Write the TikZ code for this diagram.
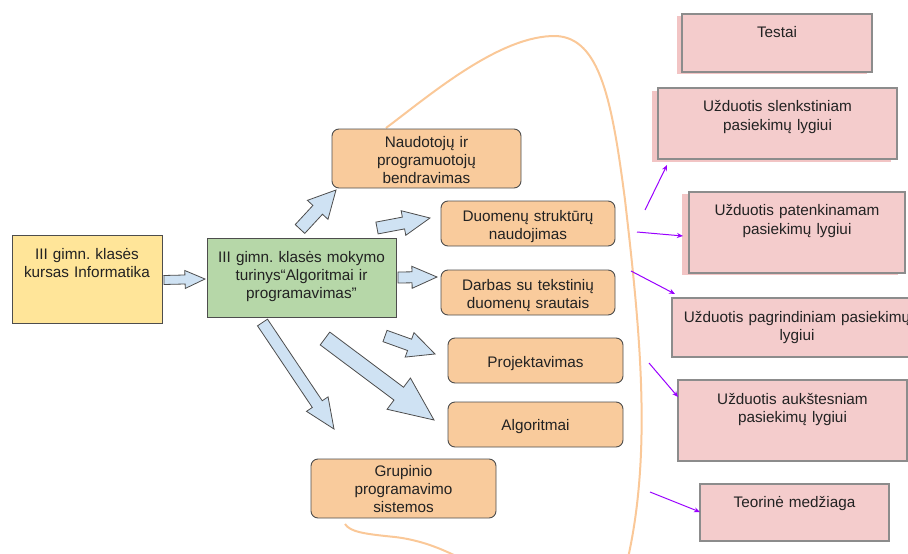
\documentclass[tikz,border=0pt]{standalone}
\usepackage{fontspec}
\setmainfont{Liberation Sans}
\usetikzlibrary{calc,arrows.meta}
\frenchspacing
\definecolor{cyel}{HTML}{FFE599}
\definecolor{cgreen}{HTML}{B6D7A8}
\definecolor{corange}{HTML}{F9CB9C}
\definecolor{cpink}{HTML}{F4CCCC}
\definecolor{cpinksh}{HTML}{F2C4C4}
\definecolor{cblue}{HTML}{CFE2F3}
\definecolor{cpurp}{HTML}{9900FF}
\definecolor{cbord}{HTML}{4D4D4D}
\definecolor{cbordp}{HTML}{8C8C8C}
\definecolor{ccurve}{HTML}{FAC898}
\definecolor{ctext}{HTML}{222222}
\tikzset{
  boxbase/.style={draw=cbord, line width=0.9pt, inner sep=0pt, outer sep=0pt},
  yelbox/.style={boxbase, fill=cyel},
  grnbox/.style={boxbase, fill=cgreen},
  orgbox/.style={boxbase, fill=corange, rounded corners=7pt},
  pnkbox/.style={boxbase, draw=cbordp, line width=1.2pt, fill=cpink},
  txt/.style={text=ctext, font=\fontsize{15.3pt}{18pt}\selectfont, align=center,
    text width=260pt, inner sep=0pt, anchor=base},
  ptxt/.style={txt, font=\fontsize{15.3pt}{19.5pt}\selectfont},
  blk/.style={draw=cbord, fill=cblue, line width=0.8pt, line join=miter},
  parr/.style={draw=cpurp, line width=1pt, -{Stealth[length=6pt,width=5pt]}},
  bracecurve/.style={draw=ccurve, line width=2pt},
}
\newcommand\mkbox[6]{\node[#2, minimum width={(#5-#3)*1pt}, minimum height={(#6-#4)*1pt}] (#1) at ({(#3+#5)/2},{(#4+#6)/2}) {};}
\newcommand\mkshadow[6]{\fill[cpinksh] ({#2+#5},{#3+#6}) rectangle ({#4+#5},{#1+#6});}
% #1 start, #2 tip, #3 half shaft, #4 half head, #5 head length
\newcommand\barrow[5]{%
  \coordinate (bah) at ($(#2)!#5!(#1)$);
  \draw[blk] ($(#1)!#3!90:(#2)$) -- ($(bah)!#3!90:(#2)$) -- ($(bah)!#4!90:(#2)$) -- (#2)
    -- ($(bah)!#4!-90:(#2)$) -- ($(bah)!#3!-90:(#2)$) -- ($(#1)!#3!-90:(#2)$) -- cycle;}
\begin{document}
\begin{tikzpicture}[x=1pt,y=-1pt]
\useasboundingbox (0,0) rectangle (908,554);
\begin{scope}
\clip (0,0) rectangle (908,554);
% orange brace curve
\draw[bracecurve] (386,128) .. controls (430,95) and (500,35) .. (556,36)
  .. controls (600,38) and (612,100) .. (625,200)
  .. controls (640,330) and (652,450) .. (628,558);
\draw[bracecurve] (345,524) .. controls (350,532) and (365,534) .. (395,537)
  .. controls (420,540) and (440,548) .. (460,558);

% left boxes
\mkbox{yel}{yelbox}{12}{235}{162}{323}
\node[txt] (tyel) at (87,259) {III gimn. klasės\\kursas Informatika};
\mkbox{grn}{grnbox}{207}{238}{396}{317}
\node[txt] (tgrn) at (301.5,262) {III gimn. klasės mokymo\\ turinys“Algoritmai ir\\programavimas”};

% orange boxes
\mkbox{nau}{orgbox}{332}{129}{521}{188}
\node[txt] (tnau) at (426.5,147) {Naudotojų ir\\programuotojų\\bendravimas};
\mkbox{duo}{orgbox}{441}{201}{615}{246}
\node[txt] (tduo) at (528,221) {Duomenų struktūrų\\naudojimas};
\mkbox{dar}{orgbox}{441}{270}{615}{315}
\node[txt] (tdar) at (528,290) {Darbas su tekstinių\\duomenų srautais};
\mkbox{pro}{orgbox}{448}{338}{623}{383}
\node[txt] (tpro) at (535.5,367) {Projektavimas};
\mkbox{alg}{orgbox}{448}{402}{623}{447}
\node[txt] (talg) at (535.5,430) {Algoritmai};
\mkbox{gru}{orgbox}{311}{459}{496}{518}
\node[txt] (tgru) at (403.5,476) {Grupinio\\programavimo\\sistemos};

% block arrows
\coordinate (a1s) at (164,280); \coordinate (a1t) at (205,279);
\barrow{a1s}{a1t}{4.5pt}{9pt}{20pt}
\coordinate (a2s) at (300,229); \coordinate (a2t) at (336,190);
\barrow{a2s}{a2t}{6.5pt}{14pt}{27pt}
\coordinate (a3s) at (377,228); \coordinate (a3t) at (430,218);
\barrow{a3s}{a3t}{6pt}{12.5pt}{27pt}
\coordinate (a4s) at (398,277.5); \coordinate (a4t) at (437,277);
\barrow{a4s}{a4t}{5.5pt}{11pt}{25pt}
\coordinate (a5s) at (385,336); \coordinate (a5t) at (435,354);
\barrow{a5s}{a5t}{6pt}{13pt}{27pt}
\coordinate (a6s) at (325,338.5); \coordinate (a6t) at (434,420);
\barrow{a6s}{a6t}{8pt}{19.5pt}{44pt}
\coordinate (a7s) at (262.5,322.5); \coordinate (a7t) at (334,429);
\barrow{a7s}{a7t}{6pt}{13pt}{30pt}

% pink boxes
\mkshadow{72}{682}{14}{872}{-5}{2}
\mkbox{tes}{pnkbox}{682}{14}{872}{72}
\node[ptxt] (ttes) at (777,37) {Testai};
\mkshadow{159}{658}{88}{897}{-6}{3}
\mkbox{sle}{pnkbox}{658}{88}{897}{159}
\node[ptxt] (tsle) at (777.5,111) {Užduotis slenkstiniam\\pasiekimų lygiui};
\mkshadow{273}{689}{192}{905}{-7}{2}
\mkbox{pat}{pnkbox}{689}{192}{905}{273}
\node[ptxt] (tpat) at (797,215) {Užduotis patenkinamam\\pasiekimų lygiui};
\mkbox{pag}{pnkbox}{672}{298}{922}{357}
\node[txt] (tpag) at (797,322) {Užduotis pagrindiniam pasiekimų\\lygiui};
\mkbox{auk}{pnkbox}{678}{380}{907}{461}
\node[txt] (tauk) at (792.5,404) {Užduotis aukštesniam\\pasiekimų lygiui};
\mkbox{teo}{pnkbox}{700}{484}{889}{541}
\node[txt] (tteo) at (794.5,507) {Teorinė medžiaga};

% purple arrows
\coordinate (p1s) at (645,210); \coordinate (p1t) at (667,165);
\coordinate (p2s) at (637,232); \coordinate (p2t) at (683,236);
\coordinate (p3s) at (631,271); \coordinate (p3t) at (675,294);
\coordinate (p4s) at (649,363); \coordinate (p4t) at (678,397);
\coordinate (p5s) at (650,492); \coordinate (p5t) at (700,512);
\draw[parr] (p1s) -- (p1t);
\draw[parr] (p2s) -- (p2t);
\draw[parr] (p3s) -- (p3t);
\draw[parr] (p4s) -- (p4t);
\draw[parr] (p5s) -- (p5t);
\end{scope}
\end{tikzpicture}
\end{document}
